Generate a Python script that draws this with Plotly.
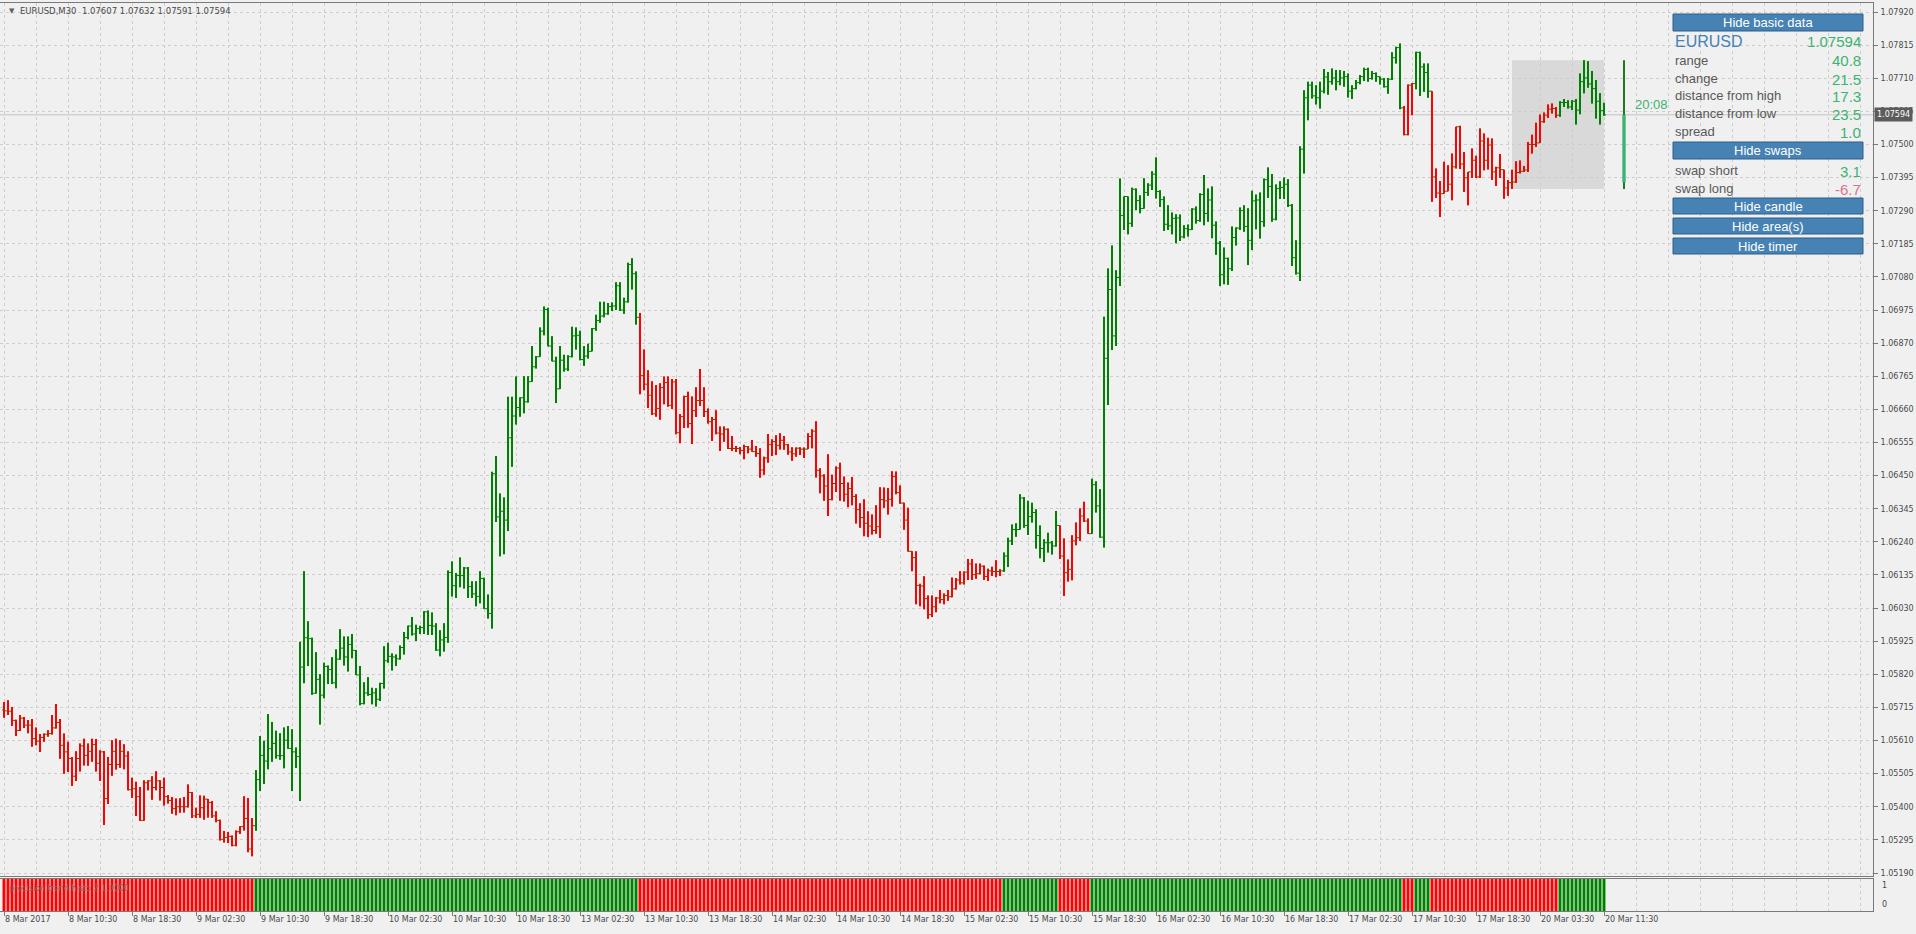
import plotly.graph_objects as go

# EURUSD M30 bars, oldest first (8 Mar 2017 02:30 .. 20 Mar 2017 11:30)
opens = [
    1.05707, 1.05704, 1.05703, 1.05674, 1.05642, 1.05681, 1.05659, 1.05659, 1.05616, 1.05608,
    1.05620, 1.05630, 1.05632, 1.05650, 1.05667, 1.05595, 1.05574, 1.05553, 1.05497, 1.05553,
    1.05593, 1.05563, 1.05576, 1.05597, 1.05538, 1.05574, 1.05426, 1.05534, 1.05576, 1.05534,
    1.05576, 1.05561, 1.05454, 1.05457, 1.05432, 1.05357, 1.05476, 1.05482, 1.05461, 1.05482,
    1.05461, 1.05432, 1.05420, 1.05394, 1.05400, 1.05400, 1.05400, 1.05445, 1.05371, 1.05376,
    1.05397, 1.05424, 1.05413, 1.05371, 1.05357, 1.05297, 1.05303, 1.05306, 1.05278, 1.05321,
    1.05337, 1.05363, 1.05266, 1.05340, 1.05486, 1.05563, 1.05545, 1.05584, 1.05601, 1.05562,
    1.05562, 1.05611, 1.05585, 1.05574, 1.05559, 1.05843, 1.05936, 1.05933, 1.05760, 1.05804,
    1.05754, 1.05845, 1.05835, 1.05793, 1.05868, 1.05903, 1.05875, 1.05915, 1.05896, 1.05818,
    1.05727, 1.05761, 1.05756, 1.05761, 1.05741, 1.05791, 1.05863, 1.05877, 1.05875, 1.05869,
    1.05905, 1.05937, 1.05973, 1.05948, 1.05965, 1.05968, 1.06018, 1.05975, 1.05973, 1.05897,
    1.05929, 1.05937, 1.06143, 1.06101, 1.06133, 1.06133, 1.06157, 1.06098, 1.06075, 1.06067,
    1.06124, 1.06028, 1.06013, 1.06456, 1.06319, 1.06337, 1.06309, 1.06570, 1.06639, 1.06666,
    1.06697, 1.06684, 1.06748, 1.06795, 1.06827, 1.06908, 1.06977, 1.06861, 1.06813, 1.06725,
    1.06816, 1.06788, 1.06827, 1.06893, 1.06895, 1.06818, 1.06829, 1.06844, 1.06916, 1.06942,
    1.06956, 1.06963, 1.06986, 1.06988, 1.07052, 1.06975, 1.07001, 1.07119, 1.07090, 1.06952,
    1.06767, 1.06740, 1.06705, 1.06646, 1.06663, 1.06729, 1.06745, 1.06673, 1.06747, 1.06586,
    1.06637, 1.06701, 1.06615, 1.06656, 1.06688, 1.06688, 1.06653, 1.06621, 1.06628, 1.06585,
    1.06582, 1.06597, 1.06536, 1.06536, 1.06536, 1.06530, 1.06542, 1.06534, 1.06526, 1.06520,
    1.06468, 1.06506, 1.06548, 1.06558, 1.06546, 1.06562, 1.06548, 1.06525, 1.06519, 1.06537,
    1.06534, 1.06534, 1.06574, 1.06591, 1.06467, 1.06449, 1.06417, 1.06374, 1.06425, 1.06474,
    1.06425, 1.06391, 1.06409, 1.06384, 1.06342, 1.06317, 1.06299, 1.06290, 1.06276, 1.06288,
    1.06374, 1.06370, 1.06375, 1.06447, 1.06396, 1.06363, 1.06309, 1.06210, 1.06190, 1.06102,
    1.06100, 1.06060, 1.06009, 1.06034, 1.06062, 1.06057, 1.06070, 1.06066, 1.06091, 1.06119,
    1.06110, 1.06144, 1.06170, 1.06136, 1.06139, 1.06163, 1.06130, 1.06148, 1.06146, 1.06146,
    1.06148, 1.06195, 1.06243, 1.06279, 1.06279, 1.06379, 1.06292, 1.06320, 1.06333, 1.06260,
    1.06219, 1.06237, 1.06237, 1.06227, 1.06292, 1.06195, 1.06142, 1.06153, 1.06243, 1.06253,
    1.06322, 1.06306, 1.06266, 1.06421, 1.06354, 1.06255, 1.06822, 1.07040, 1.06893, 1.07078,
    1.07275, 1.07335, 1.07250, 1.07358, 1.07322, 1.07297, 1.07348, 1.07371, 1.07406, 1.07351,
    1.07325, 1.07247, 1.07242, 1.07266, 1.07267, 1.07207, 1.07233, 1.07230, 1.07295, 1.07259,
    1.07341, 1.07281, 1.07324, 1.07244, 1.07187, 1.07087, 1.07139, 1.07106, 1.07205, 1.07235,
    1.07290, 1.07240, 1.07196, 1.07321, 1.07324, 1.07255, 1.07388, 1.07367, 1.07263, 1.07360,
    1.07364, 1.07374, 1.07307, 1.07141, 1.07092, 1.07485, 1.07648, 1.07688, 1.07654, 1.07648,
    1.07669, 1.07714, 1.07699, 1.07711, 1.07699, 1.07711, 1.07715, 1.07669, 1.07677, 1.07696,
    1.07715, 1.07738, 1.07709, 1.07725, 1.07715, 1.07707, 1.07683, 1.07707, 1.07775, 1.07807,
    1.07616, 1.07531, 1.07688, 1.07693, 1.07792, 1.07746, 1.07728, 1.07669, 1.07397, 1.07346,
    1.07344, 1.07352, 1.07374, 1.07429, 1.07556, 1.07438, 1.07394, 1.07413, 1.07450, 1.07397,
    1.07511, 1.07450, 1.07498, 1.07413, 1.07426, 1.07420, 1.07362, 1.07379, 1.07381, 1.07411,
    1.07415, 1.07419, 1.07500, 1.07500, 1.07505, 1.07572, 1.07593, 1.07612, 1.07614, 1.07593,
    1.07633, 1.07633, 1.07619, 1.07637, 1.07609, 1.07699, 1.07711, 1.07692, 1.07677, 1.07637,
    1.07607,
]
highs = [
    1.05732, 1.05738, 1.05716, 1.05676, 1.05691, 1.05685, 1.05675, 1.05678, 1.05651, 1.05631,
    1.05632, 1.05643, 1.05691, 1.05726, 1.05678, 1.05632, 1.05606, 1.05558, 1.05576, 1.05601,
    1.05616, 1.05601, 1.05616, 1.05615, 1.05579, 1.05577, 1.05558, 1.05611, 1.05616, 1.05611,
    1.05598, 1.05576, 1.05492, 1.05479, 1.05463, 1.05484, 1.05484, 1.05497, 1.05513, 1.05484,
    1.05492, 1.05437, 1.05431, 1.05426, 1.05427, 1.05431, 1.05471, 1.05447, 1.05397, 1.05436,
    1.05435, 1.05425, 1.05418, 1.05386, 1.05359, 1.05323, 1.05320, 1.05309, 1.05325, 1.05338,
    1.05433, 1.05428, 1.05364, 1.05516, 1.05624, 1.05609, 1.05694, 1.05669, 1.05641, 1.05633,
    1.05651, 1.05656, 1.05646, 1.05588, 1.05923, 1.06147, 1.05988, 1.05936, 1.05890, 1.05820,
    1.05857, 1.05848, 1.05874, 1.05899, 1.05963, 1.05940, 1.05940, 1.05948, 1.05897, 1.05846,
    1.05795, 1.05811, 1.05777, 1.05776, 1.05793, 1.05909, 1.05920, 1.05886, 1.05883, 1.05911,
    1.05954, 1.05974, 1.06002, 1.05977, 1.05974, 1.06020, 1.06022, 1.06016, 1.05982, 1.05960,
    1.05982, 1.06149, 1.06178, 1.06141, 1.06190, 1.06160, 1.06160, 1.06115, 1.06115, 1.06147,
    1.06126, 1.06073, 1.06462, 1.06512, 1.06393, 1.06381, 1.06700, 1.06700, 1.06764, 1.06698,
    1.06765, 1.06765, 1.06861, 1.06829, 1.06920, 1.06986, 1.06982, 1.06892, 1.06827, 1.06861,
    1.06833, 1.06832, 1.06922, 1.06920, 1.06909, 1.06861, 1.06868, 1.06918, 1.06960, 1.07001,
    1.07001, 1.06997, 1.06999, 1.07063, 1.07063, 1.07014, 1.07125, 1.07139, 1.07097, 1.06966,
    1.06850, 1.06784, 1.06749, 1.06737, 1.06743, 1.06764, 1.06764, 1.06756, 1.06756, 1.06645,
    1.06703, 1.06716, 1.06701, 1.06730, 1.06788, 1.06730, 1.06663, 1.06636, 1.06657, 1.06606,
    1.06606, 1.06599, 1.06576, 1.06544, 1.06541, 1.06548, 1.06544, 1.06563, 1.06544, 1.06537,
    1.06510, 1.06582, 1.06565, 1.06578, 1.06584, 1.06576, 1.06550, 1.06540, 1.06539, 1.06540,
    1.06539, 1.06584, 1.06597, 1.06622, 1.06473, 1.06454, 1.06518, 1.06453, 1.06479, 1.06491,
    1.06447, 1.06428, 1.06446, 1.06391, 1.06362, 1.06375, 1.06337, 1.06327, 1.06356, 1.06413,
    1.06412, 1.06411, 1.06464, 1.06463, 1.06419, 1.06364, 1.06348, 1.06210, 1.06210, 1.06107,
    1.06131, 1.06070, 1.06070, 1.06065, 1.06087, 1.06076, 1.06087, 1.06127, 1.06125, 1.06147,
    1.06146, 1.06186, 1.06186, 1.06171, 1.06171, 1.06165, 1.06155, 1.06161, 1.06182, 1.06153,
    1.06206, 1.06253, 1.06295, 1.06299, 1.06391, 1.06382, 1.06370, 1.06364, 1.06343, 1.06292,
    1.06248, 1.06269, 1.06243, 1.06338, 1.06292, 1.06251, 1.06184, 1.06261, 1.06301, 1.06346,
    1.06367, 1.06314, 1.06440, 1.06432, 1.06407, 1.06954, 1.07107, 1.07180, 1.07101, 1.07392,
    1.07335, 1.07335, 1.07363, 1.07360, 1.07339, 1.07393, 1.07377, 1.07415, 1.07459, 1.07355,
    1.07335, 1.07307, 1.07284, 1.07279, 1.07278, 1.07244, 1.07246, 1.07298, 1.07303, 1.07345,
    1.07403, 1.07360, 1.07367, 1.07256, 1.07194, 1.07173, 1.07141, 1.07240, 1.07237, 1.07300,
    1.07307, 1.07298, 1.07353, 1.07341, 1.07348, 1.07392, 1.07427, 1.07406, 1.07373, 1.07383,
    1.07395, 1.07390, 1.07311, 1.07196, 1.07494, 1.07672, 1.07699, 1.07699, 1.07688, 1.07699,
    1.07739, 1.07730, 1.07741, 1.07736, 1.07736, 1.07733, 1.07725, 1.07688, 1.07704, 1.07720,
    1.07743, 1.07743, 1.07733, 1.07728, 1.07715, 1.07711, 1.07711, 1.07792, 1.07810, 1.07820,
    1.07622, 1.07690, 1.07695, 1.07794, 1.07794, 1.07757, 1.07757, 1.07669, 1.07424, 1.07384,
    1.07445, 1.07434, 1.07471, 1.07556, 1.07559, 1.07476, 1.07413, 1.07487, 1.07464, 1.07551,
    1.07535, 1.07521, 1.07519, 1.07429, 1.07470, 1.07420, 1.07387, 1.07420, 1.07447, 1.07449,
    1.07432, 1.07508, 1.07531, 1.07569, 1.07595, 1.07601, 1.07627, 1.07630, 1.07619, 1.07637,
    1.07644, 1.07640, 1.07640, 1.07644, 1.07725, 1.07767, 1.07764, 1.07733, 1.07704, 1.07662,
    1.07632,
]
lows = [
    1.05682, 1.05691, 1.05656, 1.05624, 1.05640, 1.05650, 1.05633, 1.05590, 1.05595, 1.05574,
    1.05606, 1.05622, 1.05629, 1.05648, 1.05552, 1.05505, 1.05510, 1.05466, 1.05482, 1.05512,
    1.05531, 1.05530, 1.05543, 1.05512, 1.05482, 1.05342, 1.05409, 1.05498, 1.05518, 1.05524,
    1.05519, 1.05452, 1.05428, 1.05371, 1.05355, 1.05356, 1.05452, 1.05422, 1.05452, 1.05420,
    1.05404, 1.05410, 1.05378, 1.05373, 1.05381, 1.05382, 1.05398, 1.05364, 1.05364, 1.05365,
    1.05359, 1.05366, 1.05365, 1.05351, 1.05293, 1.05287, 1.05285, 1.05275, 1.05275, 1.05314,
    1.05325, 1.05256, 1.05243, 1.05324, 1.05450, 1.05472, 1.05519, 1.05543, 1.05553, 1.05549,
    1.05522, 1.05584, 1.05450, 1.05523, 1.05418, 1.05792, 1.05846, 1.05755, 1.05759, 1.05661,
    1.05744, 1.05789, 1.05789, 1.05776, 1.05866, 1.05848, 1.05829, 1.05871, 1.05818, 1.05722,
    1.05725, 1.05752, 1.05725, 1.05718, 1.05735, 1.05775, 1.05857, 1.05832, 1.05846, 1.05867,
    1.05883, 1.05931, 1.05943, 1.05926, 1.05948, 1.05948, 1.05945, 1.05945, 1.05895, 1.05877,
    1.05892, 1.05920, 1.06067, 1.06062, 1.06096, 1.06092, 1.06062, 1.06062, 1.06036, 1.06045,
    1.06028, 1.05997, 1.05965, 1.06303, 1.06194, 1.06201, 1.06274, 1.06478, 1.06612, 1.06637,
    1.06648, 1.06682, 1.06748, 1.06790, 1.06827, 1.06895, 1.06860, 1.06813, 1.06680, 1.06725,
    1.06780, 1.06782, 1.06825, 1.06850, 1.06816, 1.06798, 1.06821, 1.06844, 1.06909, 1.06935,
    1.06952, 1.06960, 1.06972, 1.06975, 1.06972, 1.06963, 1.06999, 1.07040, 1.06929, 1.06708,
    1.06721, 1.06664, 1.06642, 1.06637, 1.06627, 1.06676, 1.06668, 1.06661, 1.06581, 1.06553,
    1.06601, 1.06602, 1.06550, 1.06636, 1.06671, 1.06636, 1.06615, 1.06560, 1.06581, 1.06528,
    1.06557, 1.06534, 1.06528, 1.06525, 1.06518, 1.06502, 1.06521, 1.06526, 1.06510, 1.06443,
    1.06453, 1.06491, 1.06512, 1.06515, 1.06533, 1.06532, 1.06516, 1.06497, 1.06510, 1.06515,
    1.06506, 1.06534, 1.06537, 1.06444, 1.06394, 1.06370, 1.06322, 1.06372, 1.06398, 1.06370,
    1.06368, 1.06350, 1.06356, 1.06298, 1.06285, 1.06258, 1.06255, 1.06263, 1.06266, 1.06252,
    1.06348, 1.06327, 1.06352, 1.06391, 1.06361, 1.06278, 1.06209, 1.06147, 1.06042, 1.06036,
    1.06026, 1.05996, 1.06002, 1.06017, 1.06045, 1.06042, 1.06053, 1.06064, 1.06089, 1.06105,
    1.06105, 1.06119, 1.06119, 1.06123, 1.06137, 1.06119, 1.06116, 1.06132, 1.06128, 1.06132,
    1.06145, 1.06160, 1.06230, 1.06256, 1.06279, 1.06285, 1.06262, 1.06301, 1.06219, 1.06188,
    1.06176, 1.06206, 1.06200, 1.06225, 1.06186, 1.06068, 1.06114, 1.06118, 1.06229, 1.06243,
    1.06303, 1.06266, 1.06266, 1.06333, 1.06253, 1.06222, 1.06674, 1.06848, 1.06861, 1.07051,
    1.07229, 1.07215, 1.07239, 1.07292, 1.07282, 1.07297, 1.07337, 1.07356, 1.07329, 1.07302,
    1.07226, 1.07229, 1.07215, 1.07187, 1.07194, 1.07203, 1.07208, 1.07229, 1.07249, 1.07255,
    1.07244, 1.07255, 1.07203, 1.07150, 1.07051, 1.07057, 1.07055, 1.07099, 1.07180, 1.07229,
    1.07223, 1.07118, 1.07165, 1.07231, 1.07202, 1.07239, 1.07330, 1.07255, 1.07260, 1.07327,
    1.07327, 1.07302, 1.07115, 1.07088, 1.07067, 1.07408, 1.07577, 1.07646, 1.07627, 1.07614,
    1.07662, 1.07658, 1.07690, 1.07672, 1.07688, 1.07683, 1.07649, 1.07644, 1.07675, 1.07691,
    1.07701, 1.07699, 1.07706, 1.07699, 1.07690, 1.07681, 1.07661, 1.07704, 1.07757, 1.07612,
    1.07529, 1.07529, 1.07593, 1.07675, 1.07654, 1.07667, 1.07648, 1.07318, 1.07330, 1.07270,
    1.07344, 1.07352, 1.07323, 1.07424, 1.07422, 1.07349, 1.07307, 1.07394, 1.07394, 1.07394,
    1.07418, 1.07421, 1.07387, 1.07368, 1.07394, 1.07328, 1.07337, 1.07359, 1.07378, 1.07408,
    1.07413, 1.07413, 1.07471, 1.07492, 1.07505, 1.07569, 1.07584, 1.07598, 1.07585, 1.07588,
    1.07619, 1.07614, 1.07609, 1.07563, 1.07596, 1.07662, 1.07680, 1.07630, 1.07582, 1.07563,
    1.07591,
]
closes = [
    1.05704, 1.05703, 1.05674, 1.05642, 1.05681, 1.05659, 1.05659, 1.05616, 1.05608, 1.05620,
    1.05630, 1.05632, 1.05650, 1.05667, 1.05595, 1.05574, 1.05553, 1.05497, 1.05553, 1.05593,
    1.05563, 1.05576, 1.05597, 1.05538, 1.05574, 1.05426, 1.05534, 1.05576, 1.05534, 1.05576,
    1.05561, 1.05454, 1.05457, 1.05432, 1.05357, 1.05476, 1.05482, 1.05461, 1.05482, 1.05461,
    1.05432, 1.05420, 1.05394, 1.05400, 1.05400, 1.05400, 1.05445, 1.05371, 1.05376, 1.05397,
    1.05424, 1.05413, 1.05371, 1.05357, 1.05297, 1.05303, 1.05306, 1.05278, 1.05321, 1.05337,
    1.05363, 1.05266, 1.05340, 1.05486, 1.05563, 1.05545, 1.05584, 1.05601, 1.05562, 1.05562,
    1.05611, 1.05585, 1.05574, 1.05559, 1.05843, 1.05936, 1.05933, 1.05760, 1.05804, 1.05754,
    1.05845, 1.05835, 1.05793, 1.05868, 1.05903, 1.05875, 1.05915, 1.05896, 1.05818, 1.05727,
    1.05761, 1.05756, 1.05761, 1.05741, 1.05791, 1.05863, 1.05877, 1.05875, 1.05869, 1.05905,
    1.05937, 1.05973, 1.05948, 1.05965, 1.05968, 1.06018, 1.05975, 1.05973, 1.05897, 1.05929,
    1.05937, 1.06143, 1.06101, 1.06133, 1.06133, 1.06157, 1.06098, 1.06075, 1.06067, 1.06124,
    1.06028, 1.06013, 1.06456, 1.06319, 1.06337, 1.06309, 1.06570, 1.06639, 1.06666, 1.06697,
    1.06684, 1.06748, 1.06795, 1.06827, 1.06908, 1.06977, 1.06861, 1.06813, 1.06725, 1.06816,
    1.06788, 1.06827, 1.06893, 1.06895, 1.06818, 1.06829, 1.06844, 1.06916, 1.06942, 1.06956,
    1.06963, 1.06986, 1.06988, 1.07052, 1.06975, 1.07001, 1.07119, 1.07090, 1.06952, 1.06767,
    1.06740, 1.06705, 1.06646, 1.06663, 1.06729, 1.06745, 1.06673, 1.06747, 1.06586, 1.06637,
    1.06701, 1.06615, 1.06656, 1.06688, 1.06688, 1.06653, 1.06621, 1.06628, 1.06585, 1.06582,
    1.06597, 1.06536, 1.06536, 1.06536, 1.06530, 1.06542, 1.06534, 1.06526, 1.06520, 1.06468,
    1.06506, 1.06548, 1.06558, 1.06546, 1.06562, 1.06548, 1.06525, 1.06519, 1.06537, 1.06534,
    1.06534, 1.06574, 1.06591, 1.06467, 1.06449, 1.06417, 1.06374, 1.06425, 1.06474, 1.06425,
    1.06391, 1.06409, 1.06384, 1.06342, 1.06317, 1.06299, 1.06290, 1.06276, 1.06288, 1.06374,
    1.06370, 1.06375, 1.06447, 1.06396, 1.06363, 1.06309, 1.06210, 1.06190, 1.06102, 1.06100,
    1.06060, 1.06009, 1.06034, 1.06062, 1.06057, 1.06070, 1.06066, 1.06091, 1.06119, 1.06110,
    1.06144, 1.06170, 1.06136, 1.06139, 1.06163, 1.06130, 1.06148, 1.06146, 1.06146, 1.06148,
    1.06195, 1.06243, 1.06279, 1.06279, 1.06379, 1.06292, 1.06320, 1.06333, 1.06260, 1.06219,
    1.06237, 1.06237, 1.06227, 1.06292, 1.06195, 1.06142, 1.06153, 1.06243, 1.06253, 1.06322,
    1.06306, 1.06266, 1.06421, 1.06354, 1.06255, 1.06822, 1.07040, 1.06893, 1.07078, 1.07275,
    1.07335, 1.07250, 1.07358, 1.07322, 1.07297, 1.07348, 1.07371, 1.07406, 1.07351, 1.07325,
    1.07247, 1.07242, 1.07266, 1.07267, 1.07207, 1.07233, 1.07230, 1.07295, 1.07259, 1.07341,
    1.07281, 1.07324, 1.07244, 1.07187, 1.07087, 1.07139, 1.07106, 1.07205, 1.07235, 1.07290,
    1.07240, 1.07196, 1.07321, 1.07324, 1.07255, 1.07388, 1.07367, 1.07263, 1.07360, 1.07364,
    1.07374, 1.07307, 1.07141, 1.07092, 1.07485, 1.07648, 1.07688, 1.07654, 1.07648, 1.07669,
    1.07714, 1.07699, 1.07711, 1.07699, 1.07711, 1.07715, 1.07669, 1.07677, 1.07696, 1.07715,
    1.07738, 1.07709, 1.07725, 1.07715, 1.07707, 1.07683, 1.07707, 1.07775, 1.07807, 1.07616,
    1.07531, 1.07688, 1.07693, 1.07792, 1.07746, 1.07728, 1.07669, 1.07397, 1.07346, 1.07344,
    1.07352, 1.07374, 1.07429, 1.07556, 1.07438, 1.07394, 1.07413, 1.07450, 1.07397, 1.07511,
    1.07450, 1.07498, 1.07413, 1.07426, 1.07420, 1.07362, 1.07379, 1.07381, 1.07411, 1.07415,
    1.07419, 1.07500, 1.07500, 1.07505, 1.07572, 1.07593, 1.07612, 1.07614, 1.07593, 1.07633,
    1.07633, 1.07619, 1.07637, 1.07609, 1.07699, 1.07711, 1.07692, 1.07677, 1.07637, 1.07607,
    1.07594,
]

# trend filter state as runs of consecutive bars
trend_runs = [("down", 63), ("up", 96), ("down", 91), ("up", 14), ("down", 8),
              ("up", 78), ("down", 3), ("up", 4), ("down", 32), ("up", 12)]
histo_value = 1.0

time_labels = [
    "8 Mar 2017", "8 Mar 10:30", "8 Mar 18:30", "9 Mar 02:30", "9 Mar 10:30", "9 Mar 18:30",
    "10 Mar 02:30", "10 Mar 10:30", "10 Mar 18:30", "13 Mar 02:30", "13 Mar 10:30",
    "13 Mar 18:30", "14 Mar 02:30", "14 Mar 10:30", "14 Mar 18:30", "15 Mar 02:30",
    "15 Mar 10:30", "15 Mar 18:30", "16 Mar 02:30", "16 Mar 10:30", "16 Mar 18:30",
    "17 Mar 02:30", "17 Mar 10:30", "17 Mar 18:30", "20 Mar 03:30", "20 Mar 11:30",
]
label_step = 16  # bars between time labels

# today's (20 Mar) candle / area
day_open = 1.07379
day_high = 1.07767
day_low = 1.07359
day_first_bar = 377

spread = 1.0
swap_short = 3.1
swap_long = -6.7
timer_text = "20:08"

# ---------------------------------------------------------------------------
BG = "#f0f0f0"
GRID = "#cdcdcd"
FRAME = "#7a7a7a"
RED = "#ff0000"
GREEN = "#008000"
VAL_GREEN = "#3cb371"
VAL_PINK = "#db7093"
STEEL = "#4682b4"
AXIS_FONT = dict(family="DejaVu Sans", size=8, color="#4a4a4a")
PANEL_FONT = "Liberation Sans, Arial, sans-serif"

W, H = 1916, 934
PLOT_R, PLOT_T, PLOT_B = 1873, 3, 913
BAR_PX = 4


def fx(px):
    return px / PLOT_R


def fy(py):
    return (PLOT_B - py) / (PLOT_B - PLOT_T)


bars = list(range(len(closes)))
trend = [state for state, n in trend_runs for _ in range(n)]
trend_color = {"up": GREEN, "down": RED}
last = closes[-1]
pip = 0.0001

# price scale: 1.07920 at y=12px, 1.05190 at y=873px
price_per_px = (1.07920 - 1.05190) / 861
y_top = 1.07920 + (12 - PLOT_T) * price_per_px
y_bot = 1.07920 - (876 - 12) * price_per_px
x_range = [-1, (PLOT_R - BAR_PX) / BAR_PX]

fig = go.Figure()

# open/close ticks (MT4 bar chart)
fig.add_trace(go.Ohlc(
    x=bars, open=opens, high=highs, low=lows, close=closes,
    increasing=dict(line=dict(color=GREEN, width=1)),
    decreasing=dict(line=dict(color=GREEN, width=1)),
    tickwidth=0.5, hoverinfo="skip", showlegend=False,
))

# trend-coloured high/low lines
for state in ("down", "up"):
    idx = [i for i in bars if trend[i] == state]
    fig.add_trace(go.Ohlc(
        x=idx,
        open=[opens[i] for i in idx], high=[highs[i] for i in idx],
        low=[lows[i] for i in idx], close=[closes[i] for i in idx],
        increasing=dict(line=dict(color=trend_color[state], width=2)),
        decreasing=dict(line=dict(color=trend_color[state], width=2)),
        tickwidth=0, hoverinfo="skip", showlegend=False,
    ))

# daily candle to the right
candle_x = bars[-1] + 5
fig.add_trace(go.Bar(x=[candle_x], base=[day_low], y=[day_high - day_low], width=0.5,
                     marker=dict(color="#1b7a1b", line_width=0), hoverinfo="skip"))
fig.add_trace(go.Bar(x=[candle_x], base=[day_open], y=[last - day_open], width=0.85,
                     marker=dict(color=VAL_GREEN, line_width=0), hoverinfo="skip"))

# histogram sub-window
fig.add_trace(go.Bar(
    x=bars, y=[histo_value] * len(bars), width=0.75,
    marker=dict(color=[trend_color[t] for t in trend], line_width=0),
    xaxis="x2", yaxis="y2", hoverinfo="skip",
))

shapes = [
    dict(type="rect", xref="x", yref="y", x0=day_first_bar, x1=bars[-1],
         y0=day_low, y1=day_high, fillcolor="#d9d9d9", line_width=0, layer="below"),
    dict(type="line", xref="paper", yref="y", x0=0, x1=1, y0=last, y1=last,
         line=dict(color="#c2c2c2", width=1), layer="between"),
    # white strip behind the histogram (gaps between columns look white in MT4)
    dict(type="rect", xref="x2", yref="y2", x0=bars[0] - 0.5, x1=bars[-1] + 0.5,
         y0=0, y1=histo_value, fillcolor="#ffffff", line_width=0, layer="below"),
]
annotations = []

# chart header
annotations.append(dict(xref="paper", yref="paper", x=fx(7), y=fy(11), xanchor="left",
                        yanchor="middle", text="\u25bc", showarrow=False,
                        font=dict(family="DejaVu Sans", size=7, color="#606060")))
ohlc_text = "EURUSD,M30\u00a0\u00a0{:.5f} {:.5f} {:.5f} {:.5f}".format(
    opens[-1], highs[-1], lows[-1], closes[-1])
annotations.append(dict(xref="paper", yref="paper", x=fx(18), y=fy(11), xanchor="left",
                        yanchor="middle", text=ohlc_text, showarrow=False,
                        font=dict(family="DejaVu Sans", size=8.5, color="#4a4a4a")))

# sub-window label and scale
annotations.append(dict(xref="paper", yref="paper", x=fx(7), y=fy(888), xanchor="left",
                        yanchor="middle", showarrow=False,
                        text="precision trend histo 2 {:.4f}".format(histo_value),
                        font=dict(family="DejaVu Sans", size=8, color="#6e6e6e")))
for val, anchor in ((1, "top"), (0, "bottom")):
    annotations.append(dict(xref="paper", yref="y2", x=1, y=val, xanchor="left",
                            yanchor=anchor, xshift=7, text=str(val), showarrow=False,
                            font=AXIS_FONT))

# current price tag
annotations.append(dict(xref="paper", yref="y", x=1, y=last, xanchor="left", yanchor="middle",
                        xshift=1, text="{:.5f}".format(last), showarrow=False,
                        bgcolor="#5c5c5c", borderpad=2,
                        font=dict(family="DejaVu Sans", size=8, color="#ffffff")))

# candle timer
annotations.append(dict(xref="x", yref="y", x=candle_x, y=last, xshift=27, yshift=10,
                        text=timer_text, showarrow=False,
                        font=dict(family=PANEL_FONT, size=13, color=VAL_GREEN)))

# info panel
PX0, PX1 = 1673, 1863
buttons = [("Hide basic data", 14, 31), ("Hide swaps", 142, 159), ("Hide candle", 198, 214),
           ("Hide area(s)", 218, 234), ("Hide timer", 238, 254)]
for label, top, bottom in buttons:
    shapes.append(dict(type="rect", xref="paper", yref="paper", x0=fx(PX0), x1=fx(PX1),
                       y0=fy(bottom), y1=fy(top), fillcolor=STEEL,
                       line=dict(color="#2d5f8b", width=1), layer="above"))
    annotations.append(dict(xref="paper", yref="paper", x=fx((PX0 + PX1) / 2),
                            y=fy((top + bottom) / 2), text=label, showarrow=False,
                            xanchor="center", yanchor="middle",
                            font=dict(family=PANEL_FONT, size=13, color="#ffffff")))

annotations.append(dict(xref="paper", yref="paper", x=fx(PX0), y=fy(42), xanchor="left",
                        yanchor="middle", text="EURUSD", showarrow=False,
                        font=dict(family=PANEL_FONT, size=16, color=STEEL)))
annotations.append(dict(xref="paper", yref="paper", x=fx(PX1), y=fy(42), xanchor="right",
                        yanchor="middle", text="{:.5f}".format(last), showarrow=False,
                        font=dict(family=PANEL_FONT, size=15, color=VAL_GREEN)))

rows = [
    ("range", (day_high - day_low) / pip, 60),
    ("change", (last - day_open) / pip, 78),
    ("distance from high", (day_high - last) / pip, 96),
    ("distance from low", (last - day_low) / pip, 113),
    ("spread", spread, 131),
    ("swap short", swap_short, 170),
    ("swap long", swap_long, 188),
]
for label, value, ypos in rows:
    annotations.append(dict(xref="paper", yref="paper", x=fx(PX0), y=fy(ypos), xanchor="left",
                            yanchor="middle", text=label, showarrow=False,
                            font=dict(family=PANEL_FONT, size=13, color="#595959")))
    annotations.append(dict(xref="paper", yref="paper", x=fx(PX1), y=fy(ypos + 1),
                            xanchor="right", yanchor="middle", text="{:.1f}".format(value),
                            showarrow=False,
                            font=dict(family=PANEL_FONT, size=15,
                                      color=VAL_GREEN if value >= 0 else VAL_PINK)))

grid = dict(showgrid=True, gridcolor=GRID, gridwidth=1, griddash="3px,3px")

fig.update_layout(
    template="none",
    width=W, height=H,
    margin=dict(l=0, r=W - PLOT_R, t=PLOT_T, b=H - PLOT_B, pad=0),
    paper_bgcolor=BG, plot_bgcolor=BG,
    barmode="overlay", showlegend=False, hovermode=False,
    xaxis=dict(domain=[0, 1], anchor="y", range=x_range, showticklabels=False, ticks="",
               tickmode="linear", tick0=0, dtick=8, zeroline=False,
               showline=True, linecolor=FRAME, mirror=True,
               rangeslider=dict(visible=False), **grid),
    yaxis=dict(domain=[fy(876), 1], anchor="x", side="right", range=[y_bot, y_top],
               tickmode="linear", tick0=1.05190, dtick=0.00105, tickformat=".5f",
               ticks="outside", ticklen=4, tickcolor=FRAME, tickfont=AXIS_FONT,
               ticklabelstandoff=1, zeroline=False,
               showline=True, linecolor=FRAME, mirror=True, **grid),
    xaxis2=dict(domain=[0, 1], anchor="y2", range=x_range, tickmode="array",
                tickvals=[k * label_step for k in range(len(time_labels))],
                ticktext=time_labels, ticklabelposition="outside right", tickangle=0,
                ticks="outside", ticklen=4, tickcolor=FRAME, tickfont=AXIS_FONT,
                showgrid=False, zeroline=False, showline=True, linecolor=FRAME, mirror=True,
                minor=dict(tickmode="linear", tick0=0, dtick=8, ticks="", **grid),
                rangeslider=dict(visible=False)),
    yaxis2=dict(domain=[fy(911), fy(879)], anchor="x2", side="right", range=[0, 1],
                showticklabels=False, ticks="", showgrid=False, zeroline=False,
                showline=True, linecolor=FRAME, mirror=True),
    shapes=shapes,
    annotations=annotations,
)

fig.write_html("out.html", config={"displayModeBar": False},
               post_script="document.body.style.margin='0';document.body.style.overflow='hidden';")
